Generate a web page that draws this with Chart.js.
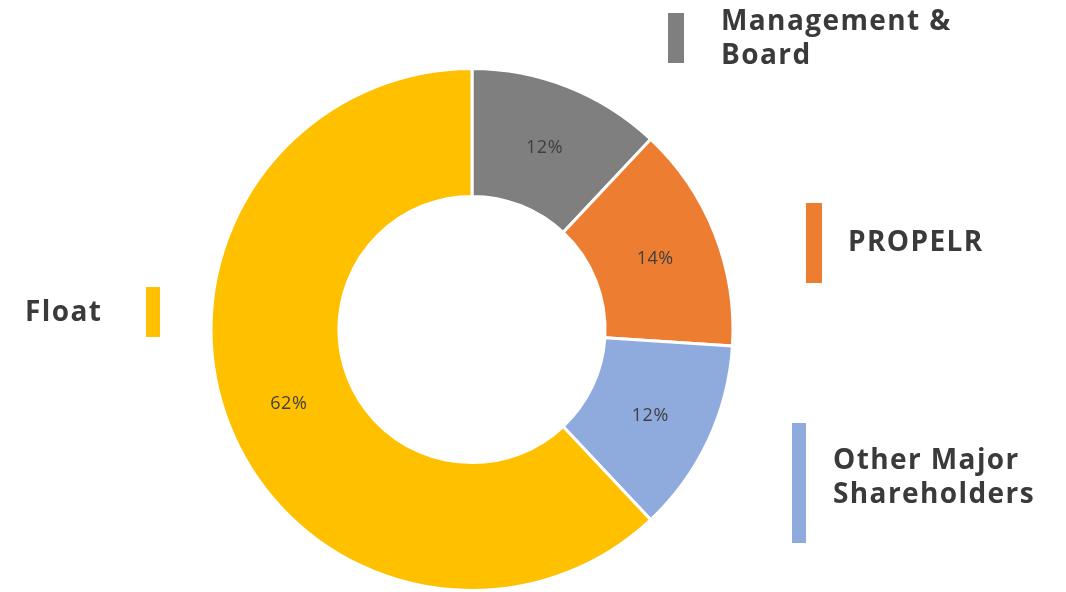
<!DOCTYPE html>
<html>
<head>
<meta charset="utf-8">
<script src="https://cdn.jsdelivr.net/npm/chart.js@4.4.1/dist/chart.umd.min.js"></script>
<style>
    html, body { margin: 0; padding: 0; background: #fff; }
    #wrap { width: 1066px; height: 592px; position: relative; }
</style>
</head>
<body>
<div id="wrap"><canvas id="ownershipChart" width="1066" height="592"></canvas></div>
<script>
// Data
const categories = ['Management & Board', 'PROPELR', 'Other Major Shareholders', 'Float'];
const shares = [12, 14, 12, 62];
const sliceColors = ['#7f7f7f', '#ed7d31', '#8faadc', '#ffc000'];

// Legend layout (text lines, bar box, text start) - positions only
const legendLayout = [
    { lines: ['Management &', 'Board'], bar: [668, 13, 16, 50], x: 721, y: 30 },
    { lines: ['PROPELR'], bar: [806, 203, 16, 80], x: 848, y: 251 },
    { lines: ['Other Major', 'Shareholders'], bar: [792, 423, 14, 120], x: 833, y: 469 },
    { lines: ['Float'], bar: [146, 287, 14, 50], x: 25, y: 321 }
];

const textColor = '#3a3a3a';

const sideLabels = {
    id: 'sideLabels',
    afterDraw(chart) {
        const ctx = chart.ctx;
        ctx.save();
        legendLayout.forEach((item, i) => {
            ctx.fillStyle = sliceColors[i];
            ctx.fillRect(item.bar[0], item.bar[1], item.bar[2], item.bar[3]);
            ctx.fillStyle = textColor;
            ctx.font = 'bold 28px "Open Sans"';
            ctx.letterSpacing = '1.4px';
            ctx.textBaseline = 'alphabetic';
            ctx.textAlign = 'left';
            item.lines.forEach((line, j) => {
                ctx.fillText(line, item.x, item.y + j * 34);
            });
        });
        ctx.restore();
    }
};

const sliceLabels = {
    id: 'sliceLabels',
    afterDatasetsDraw(chart) {
        const ctx = chart.ctx;
        const meta = chart.getDatasetMeta(0);
        const total = shares.reduce((a, b) => a + b, 0);
        ctx.save();
        ctx.fillStyle = '#404040';
        ctx.font = '18px "Open Sans"';
        ctx.letterSpacing = '0.5px';
        ctx.textAlign = 'center';
        ctx.textBaseline = 'middle';
        meta.data.forEach((arc, i) => {
            const pos = arc.tooltipPosition();
            const pct = Math.round(shares[i] / total * 100) + '%';
            ctx.fillText(pct, pos.x, pos.y + 2);
        });
        ctx.restore();
    }
};

const ctx = document.getElementById('ownershipChart').getContext('2d');

new Chart(ctx, {
    type: 'doughnut',
    data: {
        labels: categories,
        datasets: [{
            data: shares,
            backgroundColor: sliceColors,
            borderColor: '#ffffff',
            borderWidth: 3
        }]
    },
    options: {
        responsive: false,
        animation: false,
        cutout: '51%',
        layout: {
            padding: { left: 209, right: 331, top: 67, bottom: 0 }
        },
        plugins: {
            legend: { display: false },
            tooltip: { enabled: false }
        }
    },
    plugins: [sliceLabels, sideLabels]
});
</script>
</body>
</html>
